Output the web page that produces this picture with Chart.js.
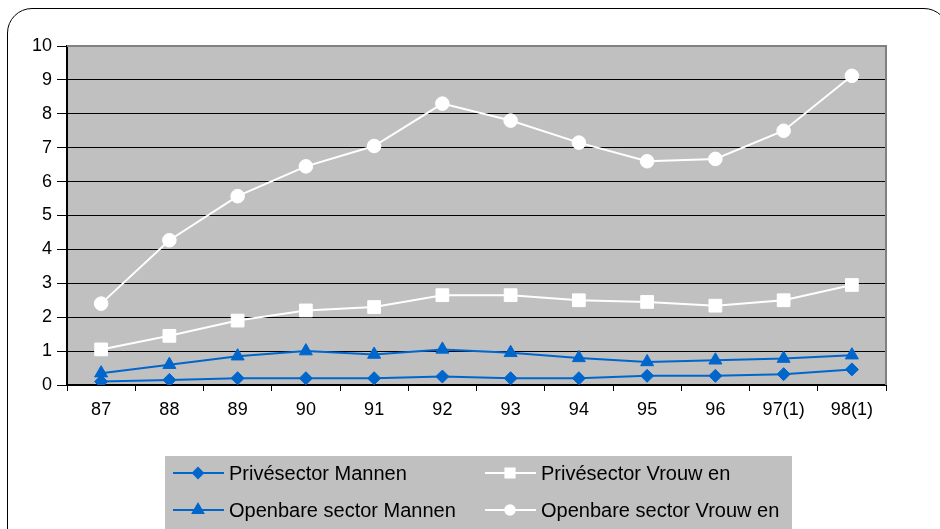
<!DOCTYPE html>
<html>
<head>
<meta charset="utf-8">
<script src="https://cdn.jsdelivr.net/npm/chart.js@4/dist/chart.umd.min.js"></script>
<style>
  body { margin: 0; background: #fff; overflow: hidden; }
  #wrap { position: relative; width: 940px; height: 529px; overflow: hidden; }
  #frame { position: absolute; left: 7px; top: 8px; width: 940px; height: 640px;
           border: 1.5px solid #000; border-radius: 25px; pointer-events: none; }
</style>
</head>
<body>
<div id="wrap">
  <canvas id="lineChart" width="940" height="529"></canvas>
  <div id="frame"></div>
</div>
<script>
var labels = ['87', '88', '89', '90', '91', '92', '93', '94', '95', '96', '97(1)', '98(1)'];
var privMannen = [0.1, 0.15, 0.2, 0.2, 0.2, 0.25, 0.2, 0.2, 0.27, 0.27, 0.32, 0.46];
var privVrouwen = [1.05, 1.45, 1.9, 2.2, 2.3, 2.65, 2.65, 2.5, 2.45, 2.34, 2.5, 2.95];
var openMannen = [0.35, 0.6, 0.85, 1.0, 0.9, 1.05, 0.95, 0.8, 0.68, 0.73, 0.78, 0.88];
var openVrouwen = [2.4, 4.27, 5.57, 6.45, 7.05, 8.3, 7.8, 7.15, 6.6, 6.67, 7.5, 9.12];
var yTicks = [0, 1, 2, 3, 4, 5, 6, 7, 8, 9, 10];

var blue = '#0066CC';
var white = '#FFFFFF';
var fam = "'Liberation Sans', Arial, sans-serif";
var font = { family: fam, size: 18 };

// grey plot area + grey frame round it
var plotBg = {
    id: 'plotBg',
    beforeDraw: function(chart) {
        var a = chart.chartArea, c = chart.ctx;
        c.save();
        c.fillStyle = '#C0C0C0';
        c.fillRect(a.left, a.top, a.right - a.left, a.bottom - a.top);
        c.restore();
    },
    beforeDatasetsDraw: function(chart) {
        var a = chart.chartArea, c = chart.ctx;
        c.save();
        c.strokeStyle = '#808080';
        c.lineWidth = 2;
        c.beginPath();
        c.moveTo(a.left, a.top);
        c.lineTo(a.right, a.top);
        c.lineTo(a.right, a.bottom);
        c.stroke();
        c.restore();
    }
};

// legend in two columns, line + marker like the original
var boxLegend = {
    id: 'boxLegend',
    afterDraw: function(chart) {
        var c = chart.ctx;
        c.save();
        c.fillStyle = '#C0C0C0';
        c.fillRect(165, 456, 627, 73);
        var sizes = [5, 6.5, 6, 4.8];
        chart.data.datasets.forEach(function(ds, i) {
            var x0 = (i % 2) ? 485 : 173;
            var y = (i < 2) ? 473 : 510;
            c.strokeStyle = ds.borderColor;
            c.lineWidth = 2;
            c.beginPath();
            c.moveTo(x0, y);
            c.lineTo(x0 + 51, y);
            c.stroke();
            c.fillStyle = ds.backgroundColor;
            Chart.helpers.drawPoint(c, { pointStyle: ds.pointStyle, radius: sizes[i], rotation: 0, borderWidth: 1 }, x0 + 25, y);
            c.fillStyle = '#000';
            c.font = '20px ' + fam;
            c.textBaseline = 'middle';
            c.fillText(ds.label, x0 + 56, y + 1);
        });
        c.restore();
    }
};

var ctx1 = document.getElementById('lineChart').getContext('2d');
var lineChart = new Chart(ctx1, {
    type: 'line',
    data: {
        labels: labels,
        datasets: [{
            label: 'Privésector Mannen',
            data: privMannen,
            borderColor: blue,
            backgroundColor: blue,
            pointStyle: 'rectRot',
            pointRadius: 6.5,
        }, {
            label: 'Privésector Vrouw en',
            data: privVrouwen,
            borderColor: white,
            backgroundColor: white,
            pointStyle: 'rect',
            pointRadius: 9,
        }, {
            label: 'Openbare sector Mannen',
            data: openMannen,
            borderColor: blue,
            backgroundColor: blue,
            pointStyle: 'triangle',
            pointRadius: 7.5,
        }, {
            label: 'Openbare sector Vrouw en',
            data: openVrouwen,
            borderColor: white,
            backgroundColor: white,
            pointStyle: 'circle',
            pointRadius: 6.8,
        }]
    },
    options: {
        responsive: false,
        animation: false,
        devicePixelRatio: 1,
        elements: {
            line: { borderWidth: 2, tension: 0 },
            point: { borderWidth: 1, hoverRadius: 7 }
        },
        layout: {
            padding: { left: 0, top: 46, right: 54, bottom: 0 }
        },
        plugins: {
            legend: { display: false },
            tooltip: { enabled: false }
        },
        scales: {
            x: {
                offset: true,
                afterFit: function(s) { s.height = 144; },
                grid: {
                    offset: true,
                    drawOnChartArea: false,
                    color: '#000',
                    tickLength: 6
                },
                border: { color: '#000', width: 2 },
                ticks: { color: '#000', font: font, padding: 8, maxRotation: 0, autoSkip: false }
            },
            y: {
                min: 0,
                max: 10,
                afterFit: function(s) { s.width = 67; },
                afterBuildTicks: function(s) { s.ticks = yTicks.map(function(v) { return { value: v }; }); },
                grid: { color: '#000', lineWidth: 1, tickLength: 10 },
                border: { color: '#000', width: 2 },
                ticks: { color: '#000', font: font, padding: 5 }
            }
        }
    },
    plugins: [plotBg, boxLegend]
});
</script>
</body>
</html>
